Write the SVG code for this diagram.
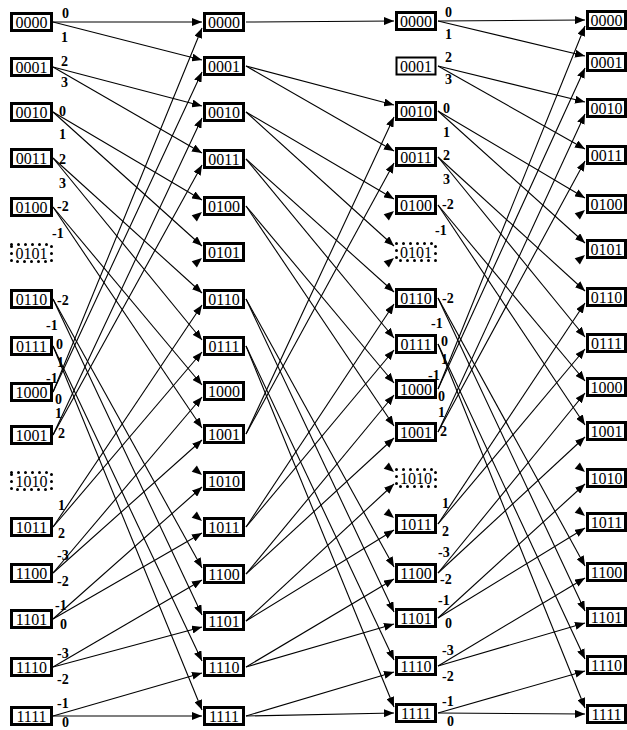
<svg xmlns="http://www.w3.org/2000/svg" width="627" height="730" viewBox="0 0 627 730">
<style>
.box{fill:#fff;stroke:#000;stroke-width:3}
.dot{fill:#fff;stroke:#000;stroke-width:3;stroke-dasharray:0 7;stroke-linecap:round}
.t{font-family:"Liberation Serif",serif;font-size:16px;text-anchor:middle;fill:#000}
.l{font-family:"Liberation Serif",serif;font-size:14px;font-weight:bold;fill:#000}
.e line{stroke:#000;stroke-width:1.1;marker-end:url(#a)}
</style>
<defs>
<marker id="a" viewBox="0 0 10 8" refX="10" refY="4" markerWidth="10" markerHeight="8" markerUnits="userSpaceOnUse" orient="auto"><path d="M0,0L10,4L0,8z"/></marker>
</defs>
<rect width="627" height="730" fill="#fff"/>
<g id="connectors" class="e">
<line x1="53" y1="22" x2="202" y2="22"/>
<line x1="53" y1="22" x2="202" y2="60"/>
<line x1="53" y1="67" x2="202" y2="106"/>
<line x1="53" y1="67" x2="202" y2="153"/>
<line x1="53" y1="112" x2="202" y2="200"/>
<line x1="53" y1="112" x2="202" y2="246"/>
<line x1="53" y1="158" x2="202" y2="293"/>
<line x1="53" y1="158" x2="202" y2="340"/>
<line x1="53" y1="207" x2="202" y2="385"/>
<line x1="53" y1="207" x2="202" y2="428"/>
<line x1="53" y1="299" x2="202" y2="568"/>
<line x1="53" y1="299" x2="202" y2="615"/>
<line x1="53" y1="346" x2="202" y2="661"/>
<line x1="53" y1="346" x2="202" y2="710"/>
<line x1="53" y1="392" x2="202" y2="28"/>
<line x1="53" y1="392" x2="202" y2="72"/>
<line x1="53" y1="435" x2="202" y2="118"/>
<line x1="53" y1="435" x2="202" y2="165"/>
<line x1="53" y1="527" x2="202" y2="305"/>
<line x1="53" y1="527" x2="202" y2="352"/>
<line x1="53" y1="573" x2="202" y2="397"/>
<line x1="53" y1="573" x2="202" y2="440"/>
<line x1="53" y1="619" x2="202" y2="487"/>
<line x1="53" y1="619" x2="202" y2="533"/>
<line x1="53" y1="667" x2="202" y2="580"/>
<line x1="53" y1="667" x2="202" y2="627"/>
<line x1="53" y1="716" x2="202" y2="673"/>
<line x1="53" y1="716" x2="202" y2="716"/>

<line x1="246" y1="22" x2="394" y2="21"/>
<line x1="246" y1="66" x2="394" y2="105"/>
<line x1="246" y1="66" x2="394" y2="151"/>
<line x1="246" y1="112" x2="394" y2="199"/>
<line x1="246" y1="112" x2="394" y2="246"/>
<line x1="246" y1="159" x2="394" y2="292"/>
<line x1="246" y1="159" x2="394" y2="338"/>
<line x1="246" y1="206" x2="394" y2="383"/>
<line x1="246" y1="206" x2="394" y2="426"/>
<line x1="246" y1="299" x2="394" y2="567"/>
<line x1="246" y1="299" x2="394" y2="612"/>
<line x1="246" y1="346" x2="394" y2="660"/>
<line x1="246" y1="346" x2="394" y2="707"/>
<line x1="246" y1="434" x2="394" y2="117"/>
<line x1="246" y1="434" x2="394" y2="163"/>
<line x1="246" y1="527" x2="394" y2="304"/>
<line x1="246" y1="527" x2="394" y2="350"/>
<line x1="246" y1="574" x2="394" y2="395"/>
<line x1="246" y1="574" x2="394" y2="438"/>
<line x1="246" y1="621" x2="394" y2="484"/>
<line x1="246" y1="621" x2="394" y2="530"/>
<line x1="246" y1="667" x2="394" y2="579"/>
<line x1="246" y1="667" x2="394" y2="624"/>
<line x1="246" y1="716" x2="394" y2="672"/>
<line x1="246" y1="716" x2="394" y2="713"/>

<line x1="438" y1="21" x2="585" y2="20"/>
<line x1="438" y1="21" x2="585" y2="56"/>
<line x1="438" y1="66" x2="585" y2="102"/>
<line x1="438" y1="66" x2="585" y2="149"/>
<line x1="438" y1="111" x2="585" y2="198"/>
<line x1="438" y1="111" x2="585" y2="243"/>
<line x1="438" y1="157" x2="585" y2="291"/>
<line x1="438" y1="157" x2="585" y2="337"/>
<line x1="438" y1="205" x2="585" y2="381"/>
<line x1="438" y1="205" x2="585" y2="425"/>
<line x1="438" y1="298" x2="585" y2="566"/>
<line x1="438" y1="298" x2="585" y2="611"/>
<line x1="438" y1="344" x2="585" y2="659"/>
<line x1="438" y1="344" x2="585" y2="708"/>
<line x1="438" y1="389" x2="585" y2="26"/>
<line x1="438" y1="389" x2="585" y2="68"/>
<line x1="438" y1="432" x2="585" y2="114"/>
<line x1="438" y1="432" x2="585" y2="161"/>
<line x1="438" y1="524" x2="585" y2="303"/>
<line x1="438" y1="524" x2="585" y2="349"/>
<line x1="438" y1="573" x2="585" y2="393"/>
<line x1="438" y1="573" x2="585" y2="437"/>
<line x1="438" y1="618" x2="585" y2="484"/>
<line x1="438" y1="618" x2="585" y2="528"/>
<line x1="438" y1="666" x2="585" y2="578"/>
<line x1="438" y1="666" x2="585" y2="623"/>
<line x1="438" y1="713" x2="585" y2="671"/>
<line x1="438" y1="713" x2="585" y2="714"/>
</g>

<g id="labels" class="l">
<text x="62" y="18">0</text><text x="61" y="42">1</text>
<text x="61" y="66">2</text><text x="61" y="87">3</text>
<text x="59" y="116">0</text><text x="59" y="139">1</text>
<text x="59" y="164">2</text><text x="59" y="188">3</text>
<text x="57" y="211">-2</text><text x="52" y="238">-1</text>
<text x="57" y="305">-2</text><text x="46" y="330">-1</text>
<text x="56" y="349">0</text><text x="57" y="367">1</text>
<text x="46" y="383">-1</text><text x="55" y="404">0</text>
<text x="55" y="418">1</text><text x="58" y="438">2</text>
<text x="58" y="510">1</text><text x="58" y="538">2</text>
<text x="57" y="560">-3</text><text x="57" y="586">-2</text>
<text x="55" y="610">-1</text><text x="60" y="629">0</text>
<text x="57" y="658">-3</text><text x="57" y="684">-2</text>
<text x="57" y="708">-1</text><text x="62" y="727">0</text>

<text x="445" y="17">0</text><text x="445" y="39">1</text>
<text x="445" y="62">2</text><text x="445" y="84">3</text>
<text x="443" y="113">0</text><text x="443" y="137">1</text>
<text x="443" y="160">2</text><text x="443" y="184">3</text>
<text x="442" y="209">-2</text><text x="435" y="235">-1</text>
<text x="442" y="303">-2</text><text x="431" y="328">-1</text>
<text x="441" y="346">0</text><text x="441" y="364">1</text>
<text x="428" y="380">-1</text><text x="438" y="401">0</text>
<text x="438" y="417">1</text><text x="440" y="436">2</text>
<text x="442" y="508">1</text><text x="442" y="536">2</text>
<text x="438" y="557">-3</text><text x="440" y="584">-2</text>
<text x="438" y="605">-1</text><text x="445" y="628">0</text>
<text x="442" y="655">-3</text><text x="442" y="681">-2</text>
<text x="442" y="706">-1</text><text x="447" y="726">0</text>
</g>

<g id="phantom-heads" fill="#000">
<polygon points="202,475 191.7,471.7 196.9,465.5"/>
<polygon points="202,521 191.7,517.7 196.9,511.5"/>
<polygon points="202,212 191.7,215.3 196.9,221.5"/>
<polygon points="202,258 191.7,261.3 196.9,267.5"/>
<polygon points="394,211 383.7,214.3 388.9,220.5"/>
<polygon points="394,258 383.7,261.3 388.9,267.5"/>
<polygon points="394,472 383.7,468.7 388.9,462.5"/>
<polygon points="394,518 383.7,514.7 388.9,508.5"/>
<polygon points="585,472 574.7,468.7 579.9,462.5"/>
<polygon points="585,516 574.7,512.7 579.9,506.5"/>
<polygon points="585,210 574.7,213.3 579.9,219.5"/>
<polygon points="585,255 574.7,258.3 579.9,264.5"/>
</g>

<g id="col0">
<g id="c0-0000"><rect class="box" x="11.5" y="13.5" width="40" height="17"/><text class="t" x="31.5" y="27.5">0000</text></g>
<g id="c0-0001"><rect class="box" x="11.5" y="58.5" width="40" height="17"/><text class="t" x="31.5" y="72.5">0001</text></g>
<g id="c0-0010"><rect class="box" x="11.5" y="103.5" width="40" height="17"/><text class="t" x="31.5" y="117.5">0010</text></g>
<g id="c0-0011"><rect class="box" x="11.5" y="149.5" width="40" height="17"/><text class="t" x="31.5" y="163.5">0011</text></g>
<g id="c0-0100"><rect class="box" x="11.5" y="198.5" width="40" height="17"/><text class="t" x="31.5" y="212.5">0100</text></g>
<g id="c0-0101"><rect class="dot" x="11.5" y="244.5" width="40" height="17"/><text class="t" x="31.5" y="258.5">0101</text></g>
<g id="c0-0110"><rect class="box" x="11.5" y="290.5" width="40" height="17"/><text class="t" x="31.5" y="304.5">0110</text></g>
<g id="c0-0111"><rect class="box" x="11.5" y="337.5" width="40" height="17"/><text class="t" x="31.5" y="351.5">0111</text></g>
<g id="c0-1000"><rect class="box" x="11.5" y="383.5" width="40" height="17"/><text class="t" x="31.5" y="397.5">1000</text></g>
<g id="c0-1001"><rect class="box" x="11.5" y="426.5" width="40" height="17"/><text class="t" x="31.5" y="440.5">1001</text></g>
<g id="c0-1010"><rect class="dot" x="11.5" y="472.5" width="40" height="17"/><text class="t" x="31.5" y="486.5">1010</text></g>
<g id="c0-1011"><rect class="box" x="11.5" y="518.5" width="40" height="17"/><text class="t" x="31.5" y="532.5">1011</text></g>
<g id="c0-1100"><rect class="box" x="11.5" y="564.5" width="40" height="17"/><text class="t" x="31.5" y="578.5">1100</text></g>
<g id="c0-1101"><rect class="box" x="11.5" y="610.5" width="40" height="17"/><text class="t" x="31.5" y="624.5">1101</text></g>
<g id="c0-1110"><rect class="box" x="11.5" y="658.5" width="40" height="17"/><text class="t" x="31.5" y="672.5">1110</text></g>
<g id="c0-1111"><rect class="box" x="11.5" y="707.5" width="40" height="17"/><text class="t" x="31.5" y="721.5">1111</text></g>
</g>

<g id="col1">
<g id="c1-0000"><rect class="box" x="204.5" y="13.5" width="39" height="17"/><text class="t" x="224" y="27.5">0000</text></g>
<g id="c1-0001"><rect class="box" x="204.5" y="57.5" width="39" height="17"/><text class="t" x="224" y="71.5">0001</text></g>
<g id="c1-0010"><rect class="box" x="204.5" y="103.5" width="39" height="17"/><text class="t" x="224" y="117.5">0010</text></g>
<g id="c1-0011"><rect class="box" x="204.5" y="150.5" width="39" height="17"/><text class="t" x="224" y="164.5">0011</text></g>
<g id="c1-0100"><rect class="box" x="204.5" y="197.5" width="39" height="17"/><text class="t" x="224" y="211.5">0100</text></g>
<g id="c1-0101"><rect class="box" x="204.5" y="243.5" width="39" height="17"/><text class="t" x="224" y="257.5">0101</text></g>
<g id="c1-0110"><rect class="box" x="204.5" y="290.5" width="39" height="17"/><text class="t" x="224" y="304.5">0110</text></g>
<g id="c1-0111"><rect class="box" x="204.5" y="337.5" width="39" height="17"/><text class="t" x="224" y="351.5">0111</text></g>
<g id="c1-1000"><rect class="box" x="204.5" y="382.5" width="39" height="17"/><text class="t" x="224" y="396.5">1000</text></g>
<g id="c1-1001"><rect class="box" x="204.5" y="425.5" width="39" height="17"/><text class="t" x="224" y="439.5">1001</text></g>
<g id="c1-1010"><rect class="box" x="204.5" y="472.5" width="39" height="17"/><text class="t" x="224" y="486.5">1010</text></g>
<g id="c1-1011"><rect class="box" x="204.5" y="518.5" width="39" height="17"/><text class="t" x="224" y="532.5">1011</text></g>
<g id="c1-1100"><rect class="box" x="204.5" y="565.5" width="39" height="17"/><text class="t" x="224" y="579.5">1100</text></g>
<g id="c1-1101"><rect class="box" x="204.5" y="612.5" width="39" height="17"/><text class="t" x="224" y="626.5">1101</text></g>
<g id="c1-1110"><rect class="box" x="204.5" y="658.5" width="39" height="17"/><text class="t" x="224" y="672.5">1110</text></g>
<g id="c1-1111"><rect class="box" x="204.5" y="707.5" width="39" height="17"/><text class="t" x="224" y="721.5">1111</text></g>
</g>

<g id="col2">
<g id="c2-0000"><rect class="box" x="396.5" y="12.5" width="39" height="17"/><text class="t" x="416" y="26.5">0000</text></g>
<g id="c2-0001"><rect class="box" x="396.5" y="57.5" width="39" height="17" style="stroke-width:2"/><text class="t" x="416" y="71.5">0001</text></g>
<g id="c2-0010"><rect class="box" x="396.5" y="102.5" width="39" height="17"/><text class="t" x="416" y="116.5">0010</text></g>
<g id="c2-0011"><rect class="box" x="396.5" y="148.5" width="39" height="17"/><text class="t" x="416" y="162.5">0011</text></g>
<g id="c2-0100"><rect class="box" x="396.5" y="196.5" width="39" height="17"/><text class="t" x="416" y="210.5">0100</text></g>
<g id="c2-0101"><rect class="dot" x="396.5" y="243.5" width="39" height="17"/><text class="t" x="416" y="257.5">0101</text></g>
<g id="c2-0110"><rect class="box" x="396.5" y="289.5" width="39" height="17"/><text class="t" x="416" y="303.5">0110</text></g>
<g id="c2-0111"><rect class="box" x="396.5" y="335.5" width="39" height="17"/><text class="t" x="416" y="349.5">0111</text></g>
<g id="c2-1000"><rect class="box" x="396.5" y="380.5" width="39" height="17"/><text class="t" x="416" y="394.5">1000</text></g>
<g id="c2-1001"><rect class="box" x="396.5" y="423.5" width="39" height="17"/><text class="t" x="416" y="437.5">1001</text></g>
<g id="c2-1010"><rect class="dot" x="396.5" y="469.5" width="39" height="17"/><text class="t" x="416" y="483.5">1010</text></g>
<g id="c2-1011"><rect class="box" x="396.5" y="515.5" width="39" height="17"/><text class="t" x="416" y="529.5">1011</text></g>
<g id="c2-1100"><rect class="box" x="396.5" y="564.5" width="39" height="17"/><text class="t" x="416" y="578.5">1100</text></g>
<g id="c2-1101"><rect class="box" x="396.5" y="609.5" width="39" height="17"/><text class="t" x="416" y="623.5">1101</text></g>
<g id="c2-1110"><rect class="box" x="396.5" y="657.5" width="39" height="17"/><text class="t" x="416" y="671.5">1110</text></g>
<g id="c2-1111"><rect class="box" x="396.5" y="704.5" width="39" height="17"/><text class="t" x="416" y="718.5">1111</text></g>
</g>

<g id="col3">
<g id="c3-0000"><rect class="box" x="587.5" y="11.5" width="38" height="17"/><text class="t" x="606.5" y="25.5">0000</text></g>
<g id="c3-0001"><rect class="box" x="587.5" y="53.5" width="38" height="17"/><text class="t" x="606.5" y="67.5">0001</text></g>
<g id="c3-0010"><rect class="box" x="587.5" y="99.5" width="38" height="17"/><text class="t" x="606.5" y="113.5">0010</text></g>
<g id="c3-0011"><rect class="box" x="587.5" y="146.5" width="38" height="17"/><text class="t" x="606.5" y="160.5">0011</text></g>
<g id="c3-0100"><rect class="box" x="587.5" y="195.5" width="38" height="17"/><text class="t" x="606.5" y="209.5">0100</text></g>
<g id="c3-0101"><rect class="box" x="587.5" y="240.5" width="38" height="17"/><text class="t" x="606.5" y="254.5">0101</text></g>
<g id="c3-0110"><rect class="box" x="587.5" y="288.5" width="38" height="17"/><text class="t" x="606.5" y="302.5">0110</text></g>
<g id="c3-0111"><rect class="box" x="587.5" y="334.5" width="38" height="17"/><text class="t" x="606.5" y="348.5">0111</text></g>
<g id="c3-1000"><rect class="box" x="587.5" y="378.5" width="38" height="17"/><text class="t" x="606.5" y="392.5">1000</text></g>
<g id="c3-1001"><rect class="box" x="587.5" y="422.5" width="38" height="17"/><text class="t" x="606.5" y="436.5">1001</text></g>
<g id="c3-1010"><rect class="box" x="587.5" y="469.5" width="38" height="17"/><text class="t" x="606.5" y="483.5">1010</text></g>
<g id="c3-1011"><rect class="box" x="587.5" y="513.5" width="38" height="17"/><text class="t" x="606.5" y="527.5">1011</text></g>
<g id="c3-1100"><rect class="box" x="587.5" y="563.5" width="38" height="17"/><text class="t" x="606.5" y="577.5">1100</text></g>
<g id="c3-1101"><rect class="box" x="587.5" y="608.5" width="38" height="17"/><text class="t" x="606.5" y="622.5">1101</text></g>
<g id="c3-1110"><rect class="box" x="587.5" y="656.5" width="38" height="17"/><text class="t" x="606.5" y="670.5">1110</text></g>
<g id="c3-1111"><rect class="box" x="587.5" y="705.5" width="38" height="17"/><text class="t" x="606.5" y="719.5">1111</text></g>
</g>
</svg>
